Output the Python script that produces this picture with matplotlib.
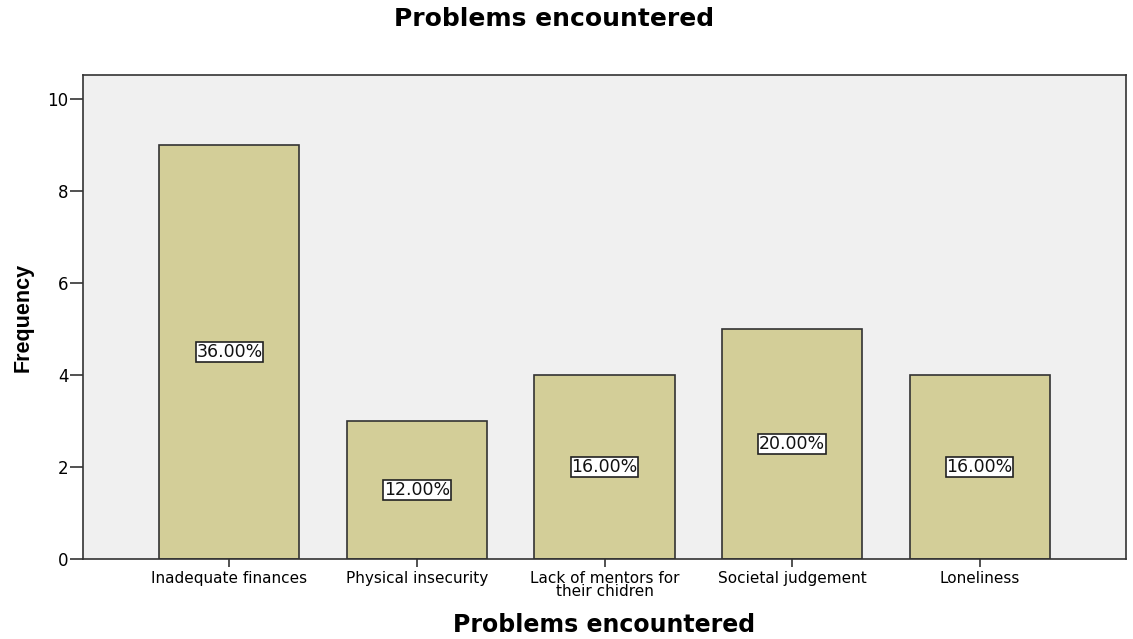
import matplotlib
matplotlib.use("Agg")
import matplotlib.pyplot as plt
from matplotlib import font_manager

categories = ["Inadequate finances", "Physical insecurity", "Lack of mentors for\ntheir chidren",
              "Societal judgement", "Loneliness"]
frequency = [9, 3, 4, 5, 4]
percent_labels = ["36.00%", "12.00%", "16.00%", "20.00%", "16.00%"]
yticks = [0, 2, 4, 6, 8, 10]

plt.rcParams['font.family'] = ['DejaVu Sans']

names = {f.name for f in font_manager.fontManager.ttflist}
narrow = 'Liberation Sans Narrow' in names

fig = plt.figure(figsize=(11.33, 6.39), dpi=100)
ax = fig.add_axes([0.0733, 0.1252, 0.9205, 0.7574])
ax.set_facecolor('#F0F0F0')

x = list(range(len(categories)))
ax.bar(x, frequency, width=0.747, color='#D3CE98', edgecolor='#333333', linewidth=1.2, zorder=2)
for xi, v, lab in zip(x, frequency, percent_labels):
    ax.text(xi, v / 2, lab, ha='center', va='center', fontsize=12.5, color='#111111', zorder=3,
            bbox=dict(boxstyle='square,pad=0.04', facecolor='white', edgecolor='#222222', linewidth=1.2))

ax.set_xlim(-0.78, 4.78)
ax.set_ylim(0, 10.52)
ax.set_yticks(yticks)
ax.set_xticks(x)
ax.set_xticklabels(categories, fontsize=11, linespacing=0.8)
ax.tick_params(axis='y', labelsize=12, length=9.5, width=1.2, color='#333333', pad=1)
ax.tick_params(axis='x', length=6, width=1.2, color='#333333', pad=3)
for s in ax.spines.values():
    s.set_color('#333333')
    s.set_linewidth(1.2)

ax.set_xlabel("Problems encountered", fontsize=17, fontweight='bold', labelpad=10)
if narrow:
    ax.set_ylabel("Frequency", fontsize=19, fontweight='bold', family='Liberation Sans Narrow', labelpad=10)
else:
    ax.set_ylabel("Frequency", fontsize=15.5, fontweight='bold', family='Liberation Sans', labelpad=10)
fig.text(0.489, 0.970, "Problems encountered", ha='center', va='center', fontsize=18, fontweight='bold')

fig.savefig("out.png", dpi=100)
